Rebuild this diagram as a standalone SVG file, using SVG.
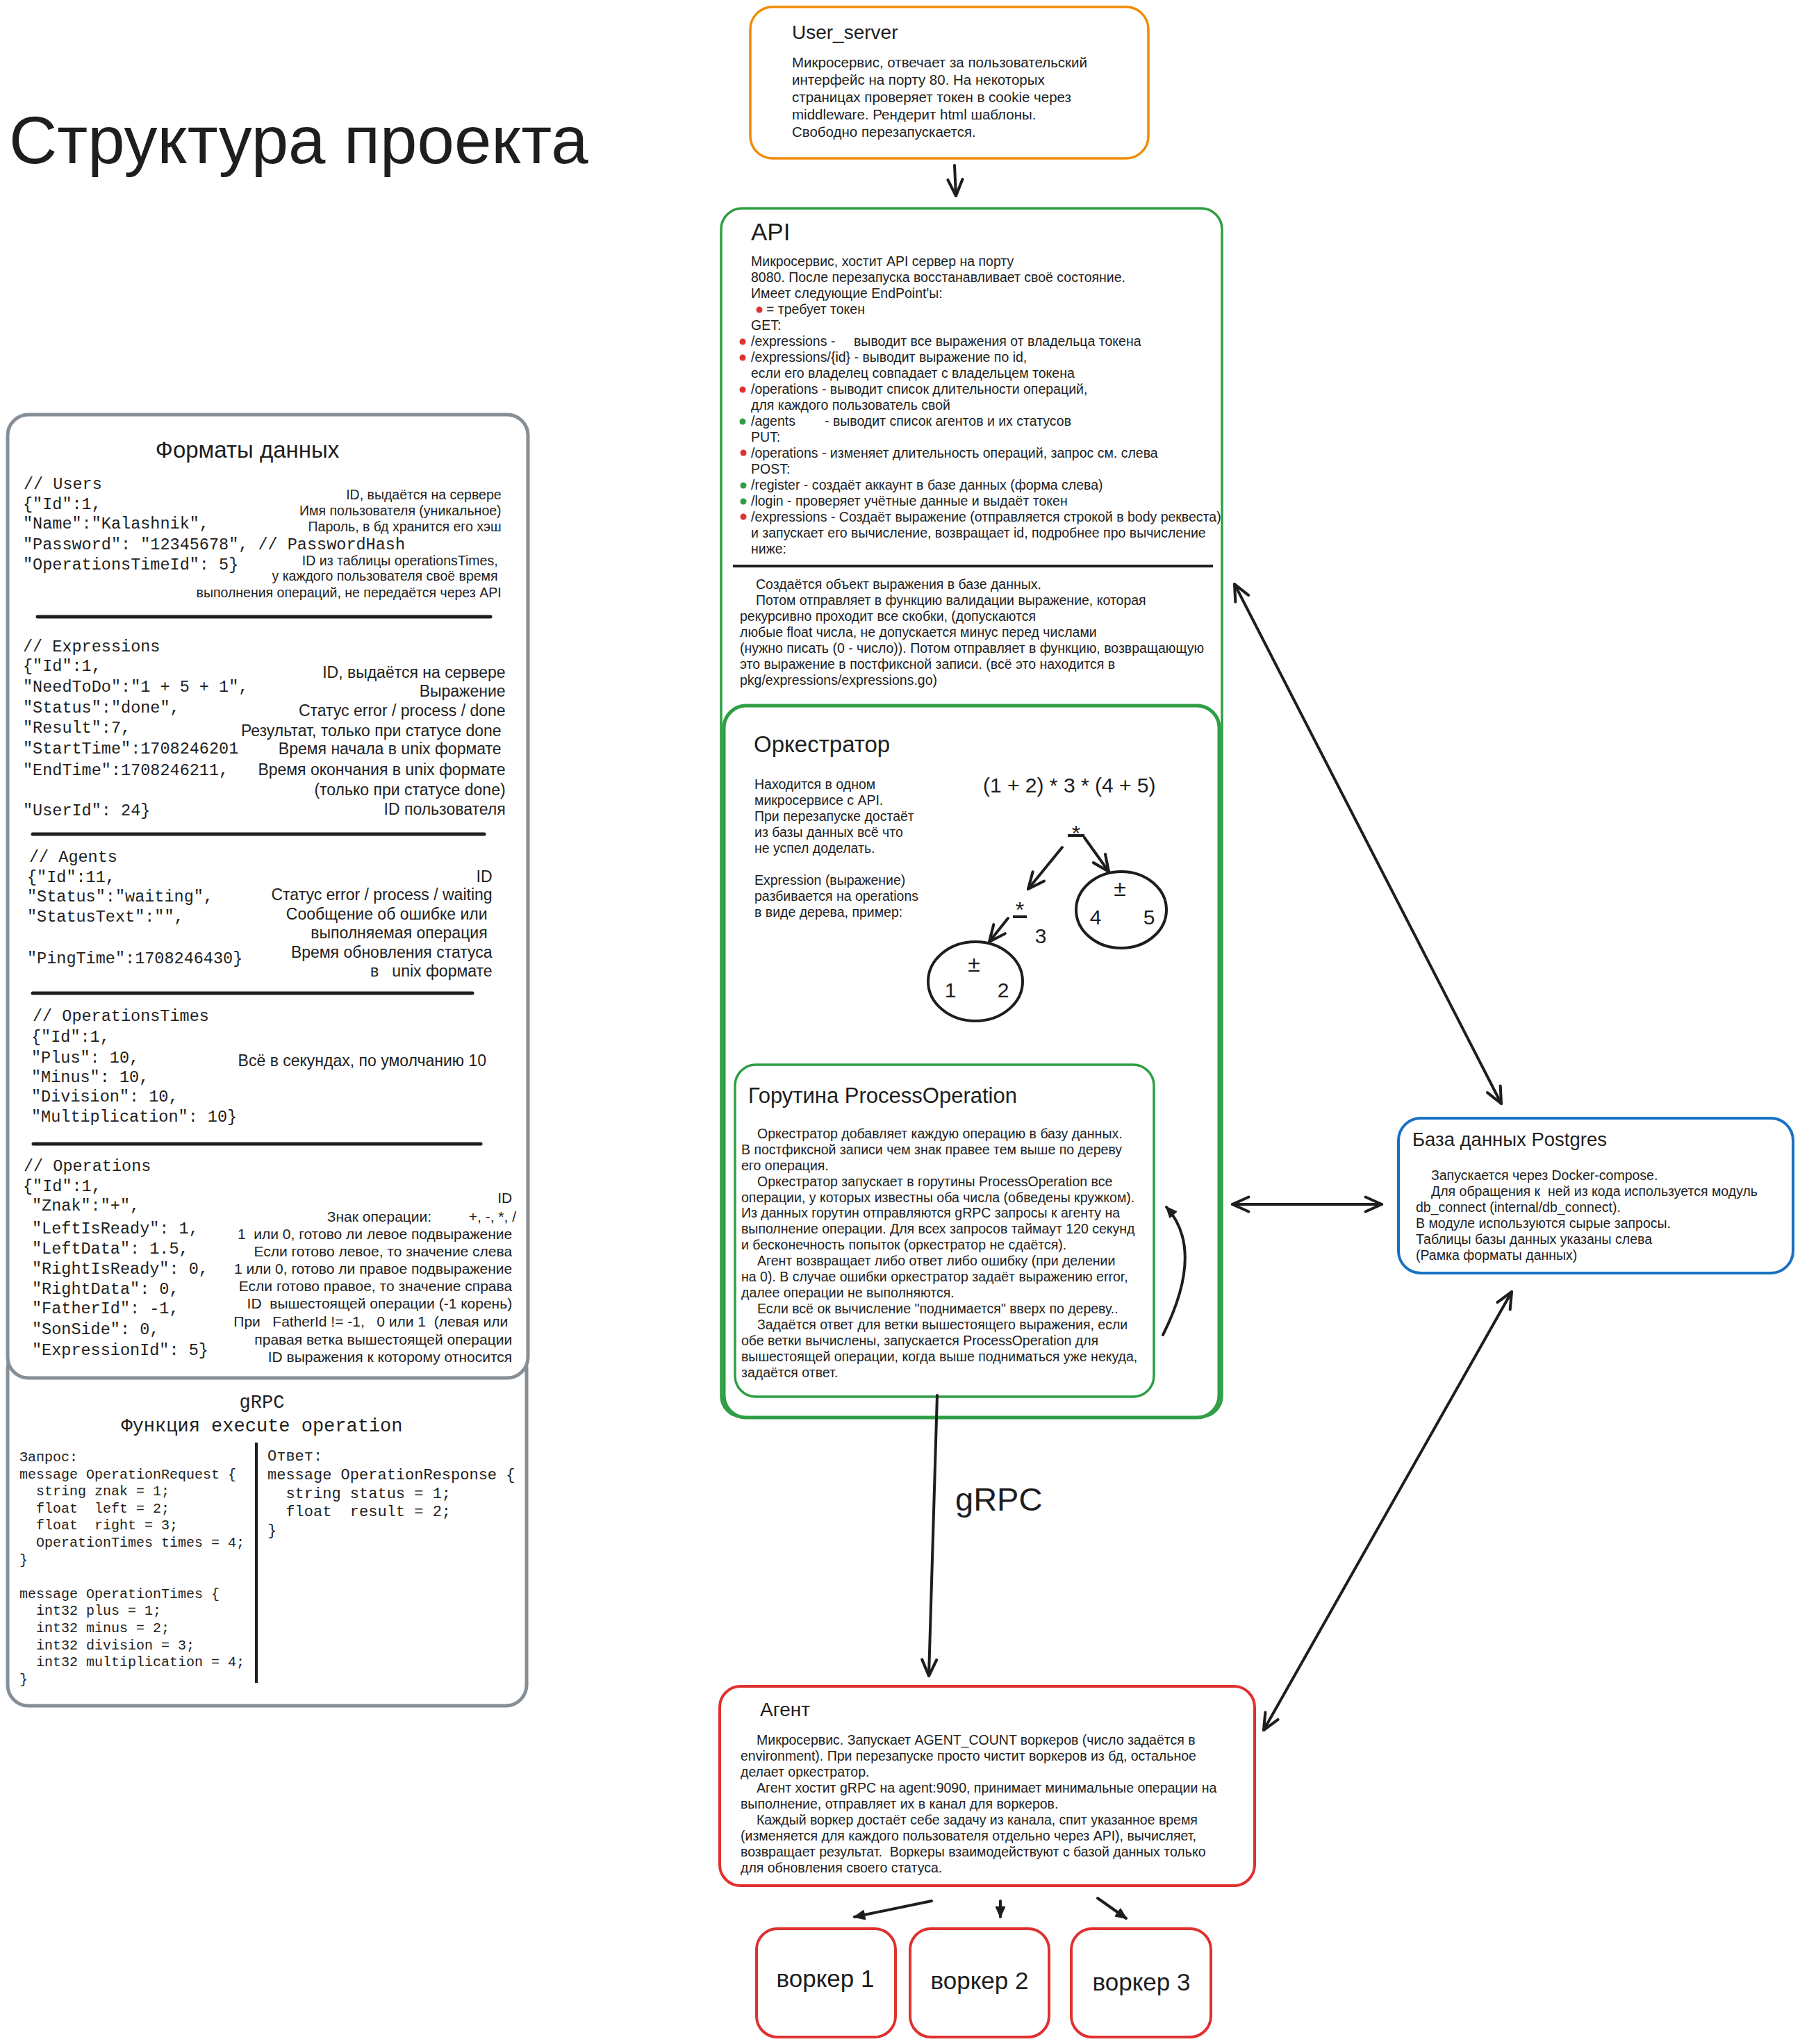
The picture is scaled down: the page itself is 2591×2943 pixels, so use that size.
<svg xmlns="http://www.w3.org/2000/svg" width="2591" height="2943" viewBox="0 0 2591 2943">
<style>
.t{font-family:"Liberation Sans",Arial,sans-serif;fill:#1e1e1e;white-space:pre}
.m{font-family:"Liberation Mono","DejaVu Sans Mono",monospace;fill:#1e1e1e;white-space:pre}
.e{text-anchor:end}
.c{text-anchor:middle}
.box{fill:#fff}
.g{stroke:#2f9e44}
.r{stroke:#e03131}
.sep{stroke:#1e1e1e;stroke-width:5;stroke-linecap:round}
.conn{fill:none;stroke:#1e1e1e;stroke-width:4;stroke-linecap:round}
.rd{fill:#e03131}
.gd{fill:#2f9e44}
</style>
<defs>
<marker id="ah" viewBox="0 0 24 24" refX="22" refY="12" markerWidth="28" markerHeight="28" markerUnits="userSpaceOnUse" orient="auto-start-reverse">
<path d="M2,3 L22,12 L2,21" fill="none" stroke="#1e1e1e" stroke-width="3.5" stroke-linecap="round" stroke-linejoin="round"/>
</marker>
<marker id="af" viewBox="0 0 20 20" refX="18" refY="10" markerWidth="18" markerHeight="18" markerUnits="userSpaceOnUse" orient="auto">
<path d="M2,3 L18,10 L2,17 Z" fill="#1e1e1e" stroke="#1e1e1e" stroke-width="2" stroke-linejoin="round"/>
</marker>
</defs>
<rect width="2591" height="2943" fill="#fff"/>

<text class="t" x="13" y="235" font-size="96">Структура проекта</text>

<g id="grpc-format">
<rect class="box" x="11" y="1940" width="747" height="516" rx="30" stroke="#868e96" stroke-width="5"/>
<text class="m c" x="377" y="2027" font-size="27">gRPC</text>
<text class="m c" x="377" y="2061" font-size="27">Функция execute operation</text>
<line x1="369" y1="2077" x2="369" y2="2423" stroke="#1e1e1e" stroke-width="4"/>
<text class="m" font-size="20">
<tspan x="28" y="2104">Запрос:</tspan>
<tspan x="28" y="2129">message OperationRequest {</tspan>
<tspan x="28" y="2153">  string znak = 1;</tspan>
<tspan x="28" y="2178">  float  left = 2;</tspan>
<tspan x="28" y="2202">  float  right = 3;</tspan>
<tspan x="28" y="2227">  OperationTimes times = 4;</tspan>
<tspan x="28" y="2252">}</tspan>
<tspan x="28" y="2301">message OperationTimes {</tspan>
<tspan x="28" y="2325">  int32 plus = 1;</tspan>
<tspan x="28" y="2350">  int32 minus = 2;</tspan>
<tspan x="28" y="2375">  int32 division = 3;</tspan>
<tspan x="28" y="2399">  int32 multiplication = 4;</tspan>
<tspan x="28" y="2424">}</tspan>
</text>
<text class="m" font-size="22">
<tspan x="385" y="2103">Ответ:</tspan>
<tspan x="385" y="2130">message OperationResponse {</tspan>
<tspan x="385" y="2157">  string status = 1;</tspan>
<tspan x="385" y="2183">  float  result = 2;</tspan>
<tspan x="385" y="2210">}</tspan>
</text>
</g>

<g id="data-formats">
<rect class="box" x="11" y="597" width="749" height="1387" rx="30" stroke="#868e96" stroke-width="5"/>
<text class="t c" x="356" y="659" font-size="33">Форматы данных</text>
<text class="m" font-size="23.5">
<tspan x="34" y="704">// Users</tspan>
<tspan x="33" y="733">{"Id":1,</tspan>
<tspan x="33" y="761">"Name":"Kalashnik",</tspan>
<tspan x="33" y="791">"Password": "12345678", // PasswordHash</tspan>
<tspan x="33" y="820">"OperationsTimeId": 5}</tspan>
</text>
<text class="t e" font-size="19.5">
<tspan x="727" y="719">ID, выдаётся на сервере</tspan>
<tspan x="727" y="742">Имя пользователя (уникальное)</tspan>
<tspan x="727" y="765">Пароль, в бд хранится его хэш</tspan>
<tspan x="722" y="814">ID из таблицы operationsTimes,</tspan>
<tspan x="722" y="836">у каждого пользователя своё время</tspan>
<tspan x="727" y="860">выполнения операций, не передаётся через API</tspan>
</text>
<line class="sep" x1="54" y1="888" x2="706" y2="888"/>

<text class="m" font-size="23.5">
<tspan x="33" y="938">// Expressions</tspan>
<tspan x="33" y="966">{"Id":1,</tspan>
<tspan x="33" y="996">"NeedToDo":"1 + 5 + 1",</tspan>
<tspan x="33" y="1026">"Status":"done",</tspan>
<tspan x="33" y="1055">"Result":7,</tspan>
<tspan x="33" y="1085">"StartTime":1708246201</tspan>
<tspan x="33" y="1116">"EndTime":1708246211,</tspan>
<tspan x="33" y="1174">"UserId": 24}</tspan>
</text>
<text class="t e" font-size="23">
<tspan x="734" y="976">ID, выдаётся на сервере</tspan>
<tspan x="734" y="1003">Выражение</tspan>
<tspan x="734" y="1031">Статус error / process / done</tspan>
<tspan x="728" y="1060">Результат, только при статусе done</tspan>
<tspan x="728" y="1086">Время начала в unix формате</tspan>
<tspan x="734" y="1116">Время окончания в unix формате</tspan>
<tspan x="734" y="1145">(только при статусе done)</tspan>
<tspan x="734" y="1173">ID пользователя</tspan>
</text>
<line class="sep" x1="47" y1="1201" x2="697" y2="1201"/>

<text class="m" font-size="23.5">
<tspan x="42" y="1241">// Agents</tspan>
<tspan x="39" y="1270">{"Id":11,</tspan>
<tspan x="39" y="1298">"Status":"waiting",</tspan>
<tspan x="39" y="1327">"StatusText":"",</tspan>
<tspan x="39" y="1387">"PingTime":1708246430}</tspan>
</text>
<text class="t e" font-size="23">
<tspan x="715" y="1270">ID</tspan>
<tspan x="715" y="1296">Статус error / process / waiting</tspan>
<tspan x="708" y="1324">Сообщение об ошибке или</tspan>
<tspan x="708" y="1351">выполняемая операция</tspan>
<tspan x="715" y="1379">Время обновления статуса</tspan>
<tspan x="715" y="1406">в   unix формате</tspan>
</text>
<line class="sep" x1="47" y1="1430" x2="680" y2="1430"/>

<text class="m" font-size="23.5">
<tspan x="47" y="1470">// OperationsTimes</tspan>
<tspan x="45" y="1500">{"Id":1,</tspan>
<tspan x="45" y="1530">"Plus": 10,</tspan>
<tspan x="45" y="1558">"Minus": 10,</tspan>
<tspan x="45" y="1586">"Division": 10,</tspan>
<tspan x="45" y="1615">"Multiplication": 10}</tspan>
</text>
<text class="t e" x="700" y="1535" font-size="23">Всё в секундах, по умолчанию 10</text>
<line class="sep" x1="48" y1="1647" x2="692" y2="1647"/>

<text class="m" font-size="23.5">
<tspan x="34" y="1686">// Operations</tspan>
<tspan x="33" y="1715">{"Id":1,</tspan>
<tspan x="46" y="1743">"Znak":"+",</tspan>
<tspan x="46" y="1776">"LeftIsReady": 1,</tspan>
<tspan x="46" y="1805">"LeftData": 1.5,</tspan>
<tspan x="46" y="1834">"RightIsReady": 0,</tspan>
<tspan x="46" y="1863">"RightData": 0,</tspan>
<tspan x="46" y="1891">"FatherId": -1,</tspan>
<tspan x="46" y="1921">"SonSide": 0,</tspan>
<tspan x="46" y="1951">"ExpressionId": 5}</tspan>
</text>
<text class="t e" font-size="21">
<tspan x="743" y="1732">ID</tspan>
<tspan x="627" y="1759">Знак операции:</tspan>
<tspan x="743" y="1784">1  или 0, готово ли левое подвыражение</tspan>
<tspan x="743" y="1809">Если готово левое, то значение слева</tspan>
<tspan x="743" y="1834">1 или 0, готово ли правое подвыражение</tspan>
<tspan x="743" y="1859">Если готово правое, то значение справа</tspan>
<tspan x="743" y="1884">ID  вышестоящей операции (-1 корень)</tspan>
<tspan x="737" y="1910">При   FatherId != -1,   0 или 1  (левая или</tspan>
<tspan x="743" y="1936">правая ветка вышестоящей операции</tspan>
<tspan x="743" y="1961">ID выражения к которому относится</tspan>
</text>
<text class="t e" x="743" y="1759" font-size="21">+, -, *, /</text>
</g>

<g id="user-server">
<rect class="box" x="1080" y="10" width="573" height="218" rx="32" stroke="#f08c00" stroke-width="3.5"/>
<text class="t" x="1140" y="56" font-size="28">User_server</text>
<text class="t" font-size="20.5">
<tspan x="1140" y="97">Микросервис, отвечает за пользовательский</tspan>
<tspan x="1140" y="122">интерфейс на порту 80. На некоторых</tspan>
<tspan x="1140" y="147">страницах проверяет токен в cookie через</tspan>
<tspan x="1140" y="172">middleware. Рендерит html шаблоны.</tspan>
<tspan x="1140" y="197">Свободно перезапускается.</tspan>
</text>
</g>

<g id="api">
<rect class="box g" x="1038" y="300" width="721" height="1740" rx="30" stroke-width="3.5"/>
<text class="t" x="1081" y="346" font-size="35">API</text>
<text class="t" font-size="19.5">
<tspan x="1081" y="383">Микросервис, хостит API сервер на порту</tspan>
<tspan x="1081" y="406">8080. После перезапуска восстанавливает своё состояние.</tspan>
<tspan x="1081" y="429">Имеет следующие EndPoint'ы:</tspan>
<tspan x="1103" y="452">= требует токен</tspan>
<tspan x="1081" y="475">GET:</tspan>
<tspan x="1081" y="498">/expressions -</tspan><tspan x="1229" y="498">выводит все выражения от владельца токена</tspan>
<tspan x="1081" y="521">/expressions/{id} - выводит выражение по id,</tspan>
<tspan x="1081" y="544">если его владелец совпадает с владельцем токена</tspan>
<tspan x="1081" y="567">/operations - выводит список длительности операций,</tspan>
<tspan x="1081" y="590">для каждого пользователь свой</tspan>
<tspan x="1081" y="613">/agents</tspan><tspan x="1187" y="613">- выводит список агентов и их статусов</tspan>
<tspan x="1081" y="636">PUT:</tspan>
<tspan x="1081" y="659">/operations - изменяет длительность операций, запрос см. слева</tspan>
<tspan x="1081" y="682">POST:</tspan>
<tspan x="1081" y="705">/register - создаёт аккаунт в базе данных (форма слева)</tspan>
<tspan x="1081" y="728">/login - проверяет учётные данные и выдаёт токен</tspan>
<tspan x="1081" y="751">/expressions - Создаёт выражение (отправляется строкой в body реквеста)</tspan>
<tspan x="1081" y="774">и запускает его вычисление, возвращает id, подробнее про вычисление</tspan>
<tspan x="1081" y="797">ниже:</tspan>
</text>
<circle class="rd" cx="1093" cy="446" r="4.5"/>
<circle class="rd" cx="1069" cy="492" r="4.5"/>
<circle class="rd" cx="1069" cy="515" r="4.5"/>
<circle class="rd" cx="1069" cy="561" r="4.5"/>
<circle class="gd" cx="1069" cy="607" r="4.5"/>
<circle class="rd" cx="1070" cy="652" r="4.5"/>
<circle class="gd" cx="1070" cy="699" r="4.5"/>
<circle class="gd" cx="1070" cy="722" r="4.5"/>
<circle class="rd" cx="1070" cy="744" r="4.5"/>
<line x1="1055" y1="815" x2="1746" y2="815" stroke="#1e1e1e" stroke-width="4"/>
<text class="t" font-size="19.5">
<tspan x="1088" y="848">Создаётся объект выражения в базе данных.</tspan>
<tspan x="1088" y="871">Потом отправляет в функцию валидации выражение, которая</tspan>
<tspan x="1065" y="894">рекурсивно проходит все скобки, (допускаются</tspan>
<tspan x="1065" y="917">любые float числа, не допускается минус перед числами</tspan>
<tspan x="1065" y="940">(нужно писать (0 - число)). Потом отправляет в функцию, возвращающую</tspan>
<tspan x="1065" y="963">это выражение в постфиксной записи. (всё это находится в</tspan>
<tspan x="1065" y="986">pkg/expressions/expressions.go)</tspan>
</text>
</g>

<g id="orchestrator">
<rect class="box g" x="1042" y="1016" width="713" height="1025" rx="32" stroke-width="5"/>
<text class="t" x="1085" y="1083" font-size="33">Оркестратор</text>
<text class="t" font-size="19.5">
<tspan x="1086" y="1136">Находится в одном</tspan>
<tspan x="1086" y="1159">микросервисе с API.</tspan>
<tspan x="1086" y="1182">При перезапуске достаёт</tspan>
<tspan x="1086" y="1205">из базы данных всё что</tspan>
<tspan x="1086" y="1228">не успел доделать.</tspan>
<tspan x="1086" y="1274">Expression (выражение)</tspan>
<tspan x="1086" y="1297">разбивается на operations</tspan>
<tspan x="1086" y="1320">в виде дерева, пример:</tspan>
</text>
<text class="t" x="1415" y="1141" font-size="30">(1 + 2) * 3 * (4 + 5)</text>
<text class="t c" x="1549" y="1211" font-size="32">*</text>
<line x1="1537" y1="1203" x2="1561" y2="1203" stroke="#1e1e1e" stroke-width="4"/>
<text class="t c" x="1468" y="1321" font-size="32">*</text>
<line x1="1458" y1="1320" x2="1478" y2="1320" stroke="#1e1e1e" stroke-width="4"/>
<text class="t c" x="1498" y="1358" font-size="30">3</text>
<ellipse cx="1614" cy="1310" rx="65" ry="55" fill="none" stroke="#1e1e1e" stroke-width="4"/>
<text class="t c" x="1612" y="1290" font-size="32">±</text>
<text class="t c" x="1577" y="1331" font-size="30">4</text>
<text class="t c" x="1654" y="1331" font-size="30">5</text>
<ellipse cx="1404" cy="1413" rx="68" ry="57" fill="none" stroke="#1e1e1e" stroke-width="4"/>
<text class="t c" x="1402" y="1399" font-size="32">±</text>
<text class="t c" x="1368" y="1436" font-size="30">1</text>
<text class="t c" x="1444" y="1436" font-size="30">2</text>
<path class="conn" d="M1529,1220 L1480,1280" marker-end="url(#ah)"/>
<path class="conn" d="M1561,1206 L1596,1255" marker-end="url(#ah)"/>
<path class="conn" d="M1451,1322 L1424,1356" marker-end="url(#ah)"/>
</g>

<g id="goroutine">
<rect class="box g" x="1058" y="1533" width="603" height="478" rx="30" stroke-width="3.5"/>
<text class="t" x="1077" y="1588" font-size="31">Горутина ProcessOperation</text>
<text class="t" font-size="19.5">
<tspan x="1090" y="1639">Оркестратор добавляет каждую операцию в базу данных.</tspan>
<tspan x="1067" y="1662">В постфиксной записи чем знак правее тем выше по дереву</tspan>
<tspan x="1067" y="1685">его операция.</tspan>
<tspan x="1090" y="1708">Оркестратор запускает в горутины ProcessOperation все</tspan>
<tspan x="1067" y="1731">операции, у которых известны оба числа (обведены кружком).</tspan>
<tspan x="1067" y="1753">Из данных горутин отправляются gRPC запросы к агенту на</tspan>
<tspan x="1067" y="1776">выполнение операции. Для всех запросов таймаут 120 секунд</tspan>
<tspan x="1067" y="1799">и бесконечность попыток (оркестратор не сдаётся).</tspan>
<tspan x="1090" y="1822">Агент возвращает либо ответ либо ошибку (при делении</tspan>
<tspan x="1067" y="1845">на 0). В случае ошибки оркестратор задаёт выражению error,</tspan>
<tspan x="1067" y="1868">далее операции не выполняются.</tspan>
<tspan x="1090" y="1891">Если всё ок вычисление "поднимается" вверх по дереву..</tspan>
<tspan x="1090" y="1914">Задаётся ответ для ветки вышестоящего выражения, если</tspan>
<tspan x="1067" y="1937">обе ветки вычислены, запускается ProcessOperation для</tspan>
<tspan x="1067" y="1960">вышестоящей операции, когда выше подниматься уже некуда,</tspan>
<tspan x="1067" y="1983">задаётся ответ.</tspan>
</text>
</g>

<g id="postgres">
<rect class="box" x="2013" y="1610" width="568" height="223" rx="32" stroke="#1971c2" stroke-width="4"/>
<text class="t" x="2033" y="1650" font-size="27.5">База данных Postgres</text>
<text class="t" font-size="19.5">
<tspan x="2060" y="1699">Запускается через Docker-compose.</tspan>
<tspan x="2060" y="1722">Для обращения к  ней из кода используется модуль</tspan>
<tspan x="2038" y="1745">db_connect (internal/db_connect).</tspan>
<tspan x="2038" y="1768">В модуле используются сырые запросы.</tspan>
<tspan x="2038" y="1791">Таблицы базы данных указаны слева</tspan>
<tspan x="2038" y="1814">(Рамка форматы данных)</tspan>
</text>
</g>

<g id="agent">
<rect class="box r" x="1036" y="2428" width="770" height="287" rx="30" stroke-width="4"/>
<text class="t" x="1094" y="2471" font-size="28">Агент</text>
<text class="t" font-size="19.5">
<tspan x="1089" y="2512">Микросервис. Запускает AGENT_COUNT воркеров (число задаётся в</tspan>
<tspan x="1066" y="2535">environment). При перезапуске просто чистит воркеров из бд, остальное</tspan>
<tspan x="1066" y="2558">делает оркестратор.</tspan>
<tspan x="1089" y="2581">Агент хостит gRPC на agent:9090, принимает минимальные операции на</tspan>
<tspan x="1066" y="2604">выполнение, отправляет их в канал для воркеров.</tspan>
<tspan x="1089" y="2627">Каждый воркер достаёт себе задачу из канала, спит указанное время</tspan>
<tspan x="1066" y="2650">(изменяется для каждого пользователя отдельно через API), вычисляет,</tspan>
<tspan x="1066" y="2673">возвращает результат.  Воркеры взаимодействуют с базой данных только</tspan>
<tspan x="1066" y="2696">для обновления своего статуса.</tspan>
</text>
</g>

<g id="worker1">
<rect class="box r" x="1089" y="2777" width="200" height="156" rx="30" stroke-width="4"/>
<text class="t c" x="1188" y="2861" font-size="35">воркер 1</text>
</g>
<g id="worker2">
<rect class="box r" x="1310" y="2777" width="200" height="156" rx="30" stroke-width="4"/>
<text class="t c" x="1410" y="2864" font-size="35">воркер 2</text>
</g>
<g id="worker3">
<rect class="box r" x="1542" y="2777" width="201" height="156" rx="30" stroke-width="4"/>
<text class="t c" x="1643" y="2866" font-size="35">воркер 3</text>
</g>

<g id="connectors">
<path class="conn" d="M1374,238 L1376,282" marker-end="url(#ah)"/>
<path class="conn" d="M1777,841 L2161,1589" marker-start="url(#ah)" marker-end="url(#ah)"/>
<path class="conn" d="M1774,1734 L1989,1734" marker-start="url(#ah)" marker-end="url(#ah)"/>
<path class="conn" d="M1819,2491 L2176,1860" marker-start="url(#ah)" marker-end="url(#ah)"/>
<path class="conn" d="M1674,1922 Q1735,1800 1679,1738" stroke-width="3" marker-end="url(#af)"/>
<path class="conn" d="M1349,2009 L1337,2413" marker-end="url(#ah)"/>
<path class="conn" d="M1341,2737 L1230,2760" stroke-width="2.5" marker-end="url(#af)"/>
<path class="conn" d="M1440,2737 L1440,2760" stroke-width="2.5" marker-end="url(#af)"/>
<path class="conn" d="M1580,2733 L1621,2762" stroke-width="2.5" marker-end="url(#af)"/>
</g>
<text class="t" x="1375" y="2175" font-size="47">gRPC</text>
</svg>
